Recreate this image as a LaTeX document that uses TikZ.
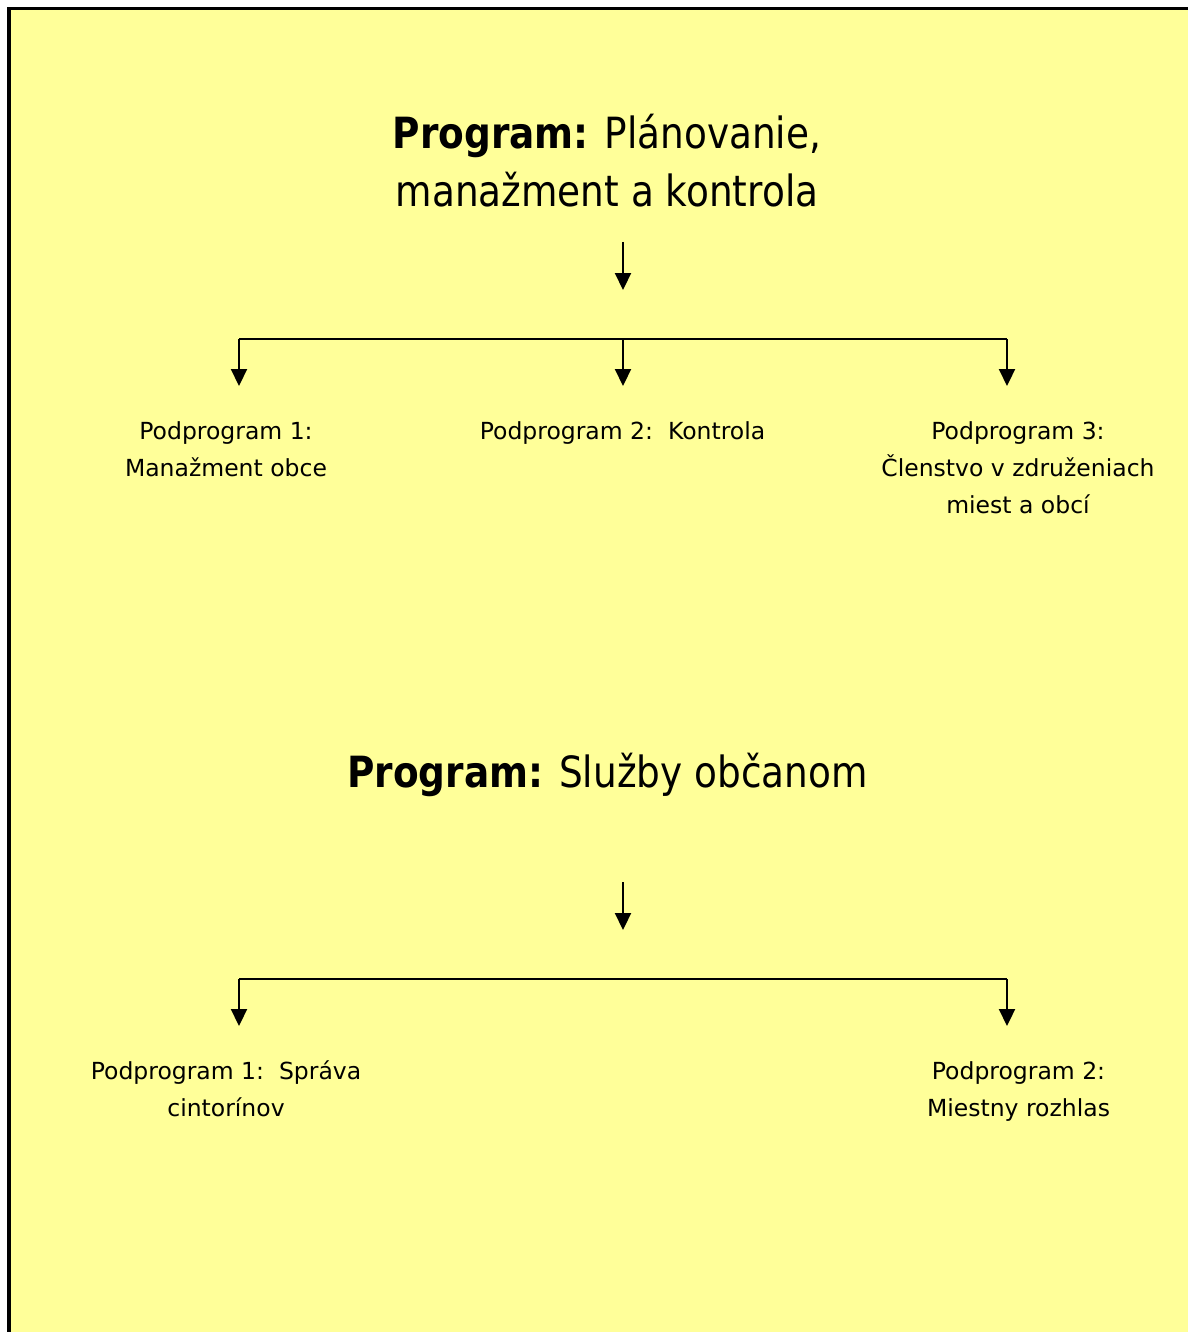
\documentclass[tikz,border=0pt]{standalone}
\usepackage{fontspec}
\setmainfont{DejaVu Sans}
\newfontfamily\titlefont[FakeStretch=0.87]{DejaVu Sans}
\usetikzlibrary{arrows.meta}
\definecolor{bgyellow}{HTML}{FFFF99}
\newcommand{\lines}[1]{\begin{tabular}[t]{@{}c@{}}#1\end{tabular}}
\begin{document}
\begin{tikzpicture}[x=1pt,y=-1pt,
  conn/.style={line width=2.2pt},
  arr/.style={conn,-{Triangle[width=16pt,length=17pt]}},
  titlebox/.style={anchor=base, inner sep=0pt, font=\titlefont\fontsize{43}{57.5}\selectfont},
  subbox/.style={anchor=base, inner sep=0pt, font=\fontsize{23.5}{37}\selectfont}]
\useasboundingbox (0,0) rectangle (1188,1332);
\fill[white] (0,0) rectangle (1188,1332);
\fill[bgyellow] (10,10) rectangle (1188,1332);
\fill[black] (7,7) rectangle (1188,10.5);
\fill[black] (7,7) rectangle (10.5,1332);

% first program
\node[titlebox] (t1) at (607,149) {\lines{\textbf{Program:} Plánovanie,\\manažment a kontrola}};
\coordinate (a1s) at (623,242);
\coordinate (a1e) at (623,290);
\coordinate (b1l) at (239,339);
\coordinate (b1m) at (623,339);
\coordinate (b1r) at (1007,339);
\coordinate (e1l) at (239,386);
\coordinate (e1m) at (623,386);
\coordinate (e1r) at (1007,386);
\draw[arr] (a1s) -- (a1e);
\draw[conn] (b1l) -- (b1r);
\draw[arr] (b1l) -- (e1l);
\draw[arr] (b1m) -- (e1m);
\draw[arr] (b1r) -- (e1r);
\node[subbox] (s11) at (226,439) {\lines{Podprogram 1:\\Manažment obce}};
\node[subbox] (s12) at (622.5,439) {\lines{Podprogram 2:\ \ Kontrola}};
\node[subbox] (s13) at (1018,439) {\lines{Podprogram 3:\\Členstvo v združeniach\\miest a obcí}};

% second program
\node[titlebox] (t2) at (607.5,787) {\lines{\textbf{Program:} Služby občanom}};
\coordinate (a2s) at (623,882);
\coordinate (a2e) at (623,930);
\coordinate (b2l) at (239,979);
\coordinate (b2r) at (1007,979);
\coordinate (e2l) at (239,1026);
\coordinate (e2r) at (1007,1026);
\draw[arr] (a2s) -- (a2e);
\draw[conn] (b2l) -- (b2r);
\draw[arr] (b2l) -- (e2l);
\draw[arr] (b2r) -- (e2r);
\node[subbox] (s21) at (226,1079) {\lines{Podprogram 1:\ \ Správa\\cintorínov}};
\node[subbox] (s22) at (1018.5,1079) {\lines{Podprogram 2:\\Miestny rozhlas}};
\end{tikzpicture}
\end{document}
